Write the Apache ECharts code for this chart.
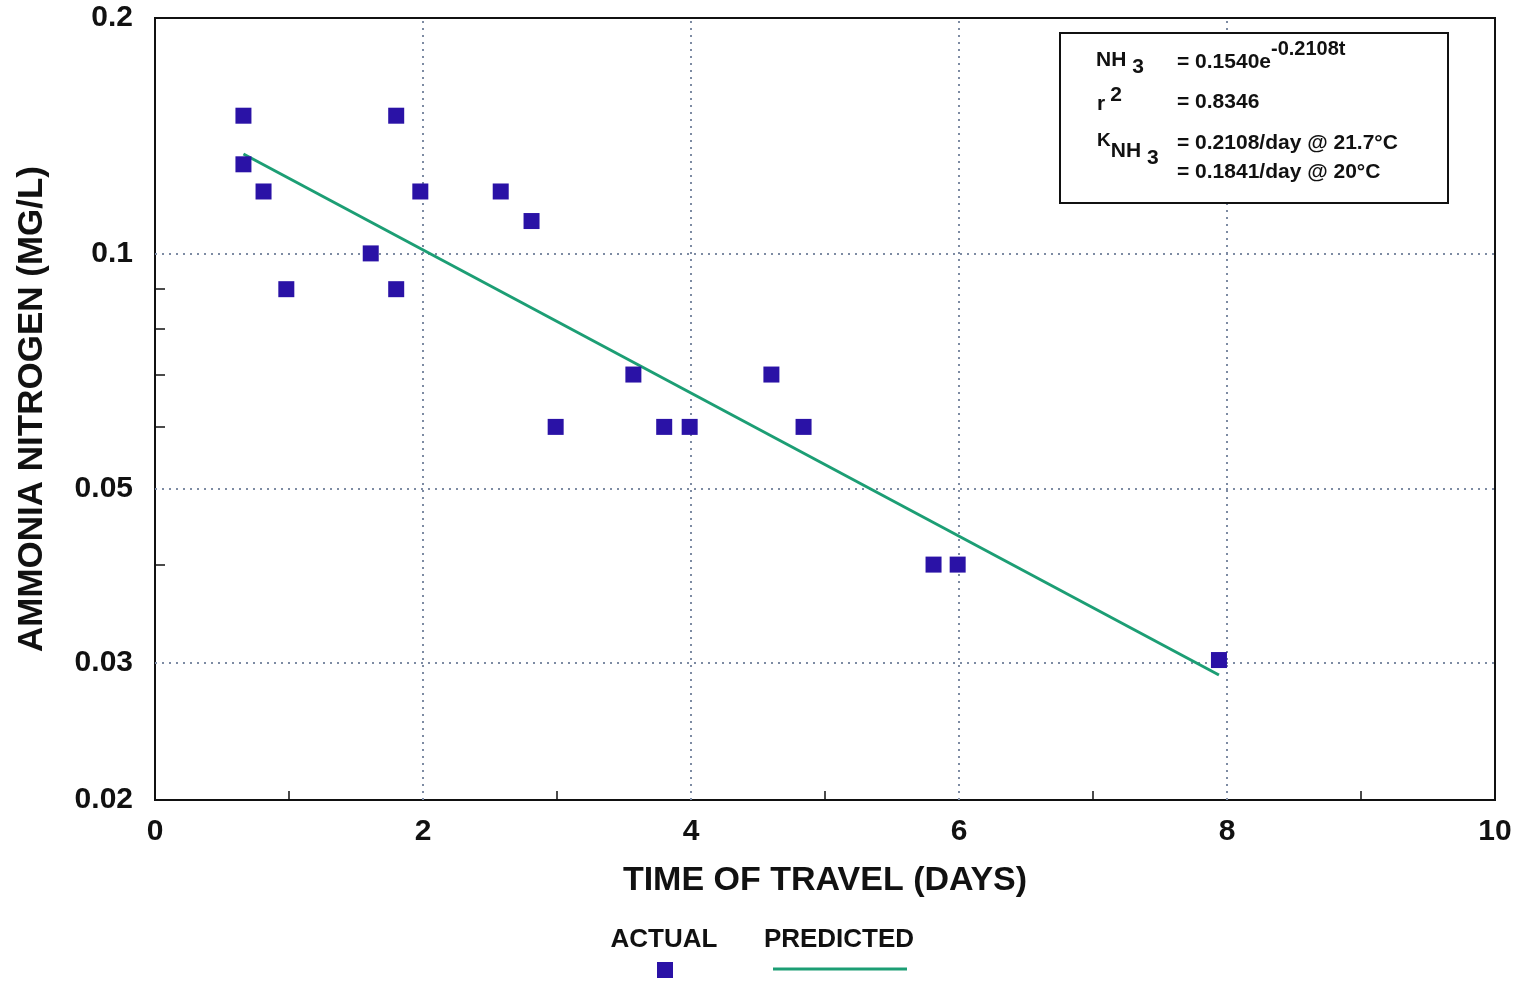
<!DOCTYPE html>
<html><head><meta charset="utf-8">
<script src="https://cdn.jsdelivr.net/npm/echarts@6/dist/echarts.min.js"></script>
<style>html,body{margin:0;padding:0;background:#fff}#c{width:1520px;height:981px}</style>
</head><body><div id="c"></div>
<script>
// Data
const actualX = [0.66, 0.66, 0.81, 0.98, 1.61, 1.80, 1.80, 1.98, 2.58, 2.81, 2.99, 3.57, 3.80, 3.99, 4.60, 4.84, 5.81, 5.99, 7.94];
const actualY = [0.15, 0.13, 0.12, 0.09, 0.10, 0.15, 0.09, 0.12, 0.12, 0.11, 0.06, 0.07, 0.06, 0.06, 0.07, 0.06, 0.04, 0.04, 0.0302];
const predictedX = [0.66, 7.94];
const predictedY = [0.134, 0.0289];
const yLabelValues = [0.02, 0.03, 0.05, 0.1, 0.2];
const yTickValues = [0.04, 0.06, 0.07, 0.08, 0.09];
const xTickValues = [1, 3, 5, 7, 9];
const yGridValues = [0.03, 0.05, 0.1];
const xGridValues = [2, 4, 6, 8];

const FONT = '"Liberation Sans", Arial, sans-serif';
const BLUE = '#2a12a6';
const GREEN = '#1c9e74';
const chart = echarts.init(document.getElementById('c'), null, {renderer: 'canvas'});

const gridLines = [];
yGridValues.forEach(v => gridLines.push({yAxis: v}));
xGridValues.forEach(v => gridLines.push({xAxis: v}));

const T = (size) => ({fontFamily: FONT, fontSize: size, fontWeight: 'bold', fill: '#111'});

chart.setOption({
  animation: false,
  backgroundColor: '#fff',
  grid: {left: 155, right: 25, top: 18, bottom: 181, show: true, borderColor: '#111', borderWidth: 2, backgroundColor: 'transparent'},
  xAxis: {
    type: 'value', min: 0, max: 10, interval: 2,
    name: 'TIME OF TRAVEL (DAYS)', nameLocation: 'middle', nameGap: 64,
    nameTextStyle: {fontFamily: FONT, fontSize: 34, fontWeight: 'bold', color: '#111'},
    axisLine: {lineStyle: {color: '#111', width: 2}},
    axisTick: {show: true, inside: true, length: 9, customValues: xTickValues, lineStyle: {color: '#111', width: 1.5}},
    axisLabel: {fontFamily: FONT, fontSize: 30, fontWeight: 'bold', color: '#111', margin: 17},
    splitLine: {show: false}
  },
  yAxis: {
    type: 'log', logBase: 10, min: 0.02, max: 0.2,
    name: 'AMMONIA NITROGEN (MG/L)', nameLocation: 'middle', nameGap: 105,
    nameTextStyle: {fontFamily: FONT, fontSize: 35, fontWeight: 'bold', color: '#111'},
    axisLine: {show: true, lineStyle: {color: '#111', width: 2}},
    axisTick: {show: true, inside: true, length: 10, customValues: yTickValues, lineStyle: {color: '#111', width: 1.5}},
    axisLabel: {fontFamily: FONT, fontSize: 30, fontWeight: 'bold', color: '#111', margin: 22, customValues: yLabelValues,
      formatter: v => String(+v.toPrecision(3))},
    splitLine: {show: false}
  },
  series: [
    {
      type: 'line', name: 'PREDICTED', data: predictedX.map((x, i) => [x, predictedY[i]]),
      symbol: 'none', lineStyle: {color: GREEN, width: 3}, z: 3,
      markLine: {silent: true, symbol: 'none', label: {show: false},
        lineStyle: {type: [2, 5], color: '#7d8ba3', width: 2}, data: gridLines, z: 1}
    },
    {
      type: 'scatter', name: 'ACTUAL', data: actualX.map((x, i) => [x, actualY[i]]),
      symbol: 'rect', symbolSize: 16, itemStyle: {color: BLUE, opacity: 1}, z: 4
    }
  ],
  graphic: [
    {type: 'rect', left: 1059, top: 32, shape: {width: 388, height: 170}, style: {fill: '#fff', stroke: '#111', lineWidth: 2}, z: 10},
    {type: 'text', left: 1096, top: 50, z: 11, style: {text: '{a|NH}{s|3}', rich: {a: T(21), s: Object.assign(T(21), {padding: [14, 0, 0, 6]})}}},
    {type: 'text', left: 1177, top: 39, z: 11, style: {text: '{a|= 0.1540e}{p|-0.2108t}', rich: {a: Object.assign(T(21), {padding: [14, 0, 0, 0]}), p: Object.assign(T(20), {padding: [0, 0, 12, 0]})}}},
    {type: 'text', left: 1097, top: 85, z: 11, style: {text: '{a|r}{p|2}', rich: {a: Object.assign(T(21), {padding: [9, 0, 0, 0]}), p: Object.assign(T(21), {padding: [0, 0, 9, 5]})}}},
    {type: 'text', left: 1177, top: 92, z: 11, style: Object.assign(T(21), {text: '= 0.8346'})},
    {type: 'text', left: 1097, top: 131, z: 11, style: {text: '{a|K}{b|NH}{s|3}', rich: {a: Object.assign(T(19), {padding: [0, 0, 12, 0]}), b: Object.assign(T(21), {padding: [9, 0, 0, 0]}), s: Object.assign(T(21), {padding: [24, 0, 0, 6]})}}},
    {type: 'text', left: 1177, top: 133, z: 11, style: Object.assign(T(21), {text: '= 0.2108/day @ 21.7°C'})},
    {type: 'text', left: 1177, top: 162, z: 11, style: Object.assign(T(21), {text: '= 0.1841/day @ 20°C'})},
    // legend
    {type: 'text', x: 664, y: 940, z: 11, style: Object.assign(T(26), {text: 'ACTUAL', align: 'center', verticalAlign: 'middle'})},
    {type: 'rect', x: 657, y: 962, z: 11, shape: {width: 16, height: 16}, style: {fill: BLUE}},
    {type: 'text', x: 839, y: 940, z: 11, style: Object.assign(T(26), {text: 'PREDICTED', align: 'center', verticalAlign: 'middle'})},
    {type: 'line', z: 11, shape: {x1: 773, y1: 969, x2: 907, y2: 969}, style: {stroke: GREEN, lineWidth: 3}}
  ]
});
</script>
</body></html>
